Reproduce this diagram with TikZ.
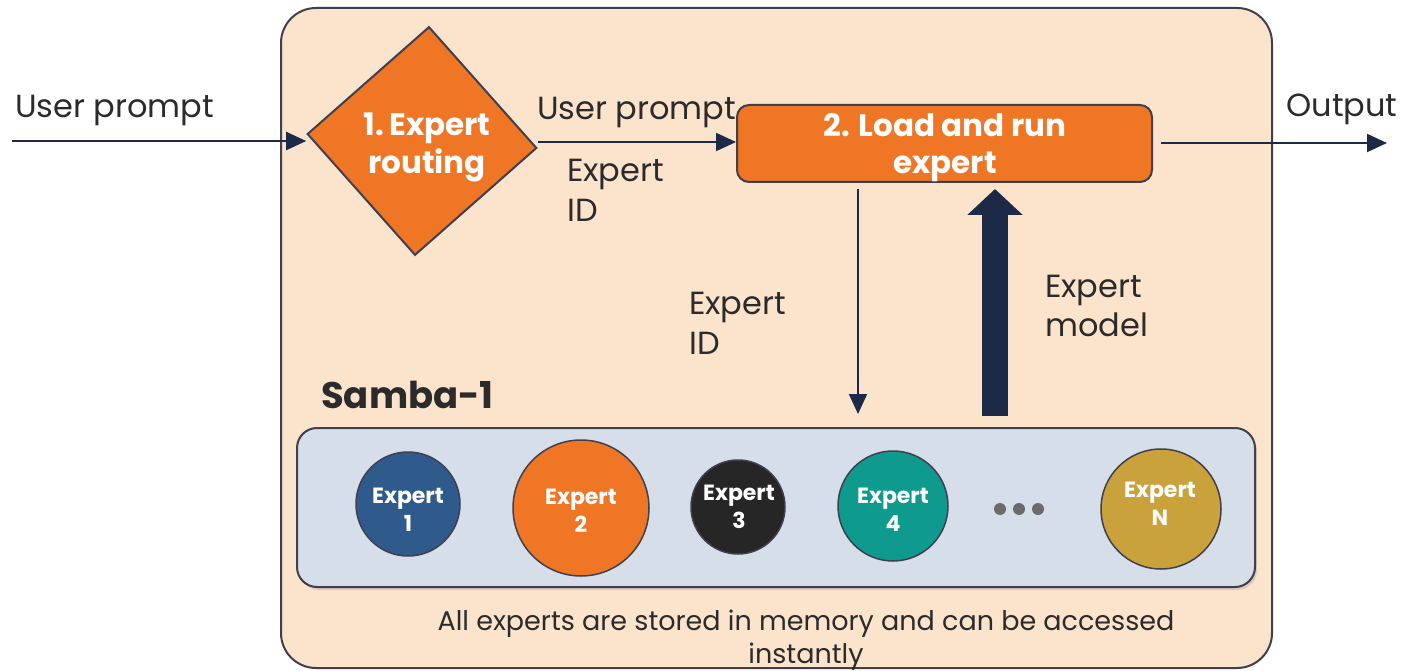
\documentclass[tikz,border=0pt]{standalone}
\usepackage{fontspec}
\setmainfont{Poppins}
\usetikzlibrary{shapes.geometric,arrows.meta,shadows}
\definecolor{peach}{HTML}{FCE4CC}
\definecolor{frameC}{HTML}{3F3F4F}
\definecolor{orangeC}{HTML}{EE7624}
\definecolor{navyC}{HTML}{1C2A48}
\definecolor{poolC}{HTML}{D6DEE9}
\definecolor{eOne}{HTML}{2F5B8C}
\definecolor{eThree}{HTML}{262626}
\definecolor{eFour}{HTML}{0F9A8E}
\definecolor{eN}{HTML}{C9A23C}
\definecolor{txtC}{HTML}{2B2B2B}
\definecolor{dotC}{HTML}{6B6B6B}
\tikzset{
  panel/.style={draw=frameC, line width=2pt, fill=peach, rounded corners=35pt},
  conn/.style={draw=navyC, line width=2pt, -{Triangle[length=20pt,width=18pt]}},
  fatarrow/.style={draw=navyC, line width=26pt, -{Triangle[length=26pt,width=54pt]}},
  lbl/.style={text=txtC, font=\fontsize{32}{40}\selectfont, inner sep=0pt, align=left},
  btxt/.style={text=white, font=\bfseries\fontsize{31}{37}\selectfont, inner sep=0pt, align=center},
  routebox/.style={diamond, draw=frameC, line width=2pt, fill=orangeC, inner sep=0pt},
  loadbox/.style={rectangle, draw=frameC, line width=2pt, fill=orangeC, rounded corners=12pt, inner sep=0pt},
  poolbox/.style={rectangle, draw=frameC, line width=2pt, fill=poolC, rounded corners=20pt, inner sep=0pt,
    drop shadow={opacity=0.25, shadow xshift=2pt, shadow yshift=-3pt}},
  expert/.style={circle, draw=frameC, line width=1.5pt, inner sep=0pt},
  etxt/.style={text=white, inner sep=0pt, align=center, font=\bfseries\fontsize{22}{28}\selectfont},
  dotnode/.style={circle, fill=dotC, minimum size=12pt, inner sep=0pt}
}
\begin{document}
\begin{tikzpicture}[x=1pt,y=-1pt]
\useasboundingbox (0,0) rectangle (1409,671);
\fill[white] (0,0) rectangle (1409,671);
% outer panel
\draw[panel] (281,8) rectangle (1272,668);
% main nodes
\node[routebox, minimum width=230pt, minimum height=229pt, rotate=-3.5] (route) at (422,141) {};
\node[btxt, font=\bfseries\fontsize{31}{38}\selectfont] (routetxt) at (427,147) {1.\,Expert\\routing};
\node[loadbox, minimum width=415pt, minimum height=77pt] (load) at (944.5,143.5) {};
\node[btxt, font=\bfseries\fontsize{31}{37}\selectfont] (loadtxt) at (945,148) {2. Load and run\\expert};
\node[poolbox, minimum width=958pt, minimum height=159pt] (pool) at (776,507.5) {};
% experts
\node[expert, fill=eOne, minimum size=104pt] (e1) at (408,504) {};
\node[etxt] (e1t) at (408,510) {Expert\\1};
\node[expert, fill=orangeC, minimum size=136pt] (e2) at (581,508) {};
\node[etxt] (e2t) at (581,511) {Expert\\2};
\node[expert, fill=eThree, minimum size=94pt] (e3) at (738,507) {};
\node[etxt] (e3t) at (739,507) {Expert\\3};
\node[expert, fill=eFour, minimum size=110pt] (e4) at (893,506) {};
\node[etxt] (e4t) at (893,510) {Expert\\4};
\node[dotnode] (d1) at (1000,509) {};
\node[dotnode] (d2) at (1019,509) {};
\node[dotnode] (d3) at (1038,509) {};
\node[expert, fill=eN, minimum size=120pt] (eN) at (1161,509) {};
\node[etxt] (eNt) at (1160,504) {Expert\\N};
% coordinates
\coordinate (inS) at (12,141);
\coordinate (outE) at (1387,143);
\coordinate (dnX) at (858,0);
\coordinate (upX) at (995,0);
% connectors
\draw[conn] (inS) -- (inS -| route.west);
\draw[conn] (route.east |- 0,142) -- (load.west |- 0,142);
\draw[conn, shorten <=8pt] (load.east |- outE) -- (outE);
\draw[conn, shorten <=6pt, shorten >=13pt] (load.south -| dnX) -- (pool.north -| dnX);
\draw[fatarrow, shorten <=11pt, shorten >=6pt] (pool.north -| upX) -- (load.south -| upX);
% labels
\node[lbl, anchor=base west] (l1) at (15,118) {User prompt};
\node[lbl, anchor=base west] (l2) at (537,120) {User prompt};
\node[lbl, anchor=west] (l3) at (567,190) {Expert\\ID};
\node[lbl, anchor=west] (l4) at (689,323.5) {Expert\\ID};
\node[lbl, anchor=west, font=\fontsize{32}{39}\selectfont] (l5) at (1045,306) {Expert\\model};
\node[lbl, anchor=base] (l6) at (1342,117) {Output};
\node[text=txtC, font=\bfseries\fontsize{37}{44}\selectfont, inner sep=0pt, anchor=base west] (samba) at (321,408) {Samba-1};
\node[text=txtC, font=\fontsize{27}{33}\selectfont, inner sep=0pt, align=center] (note) at (806,640) {All experts are stored in memory and can be accessed\\instantly};
\end{tikzpicture}
\end{document}
